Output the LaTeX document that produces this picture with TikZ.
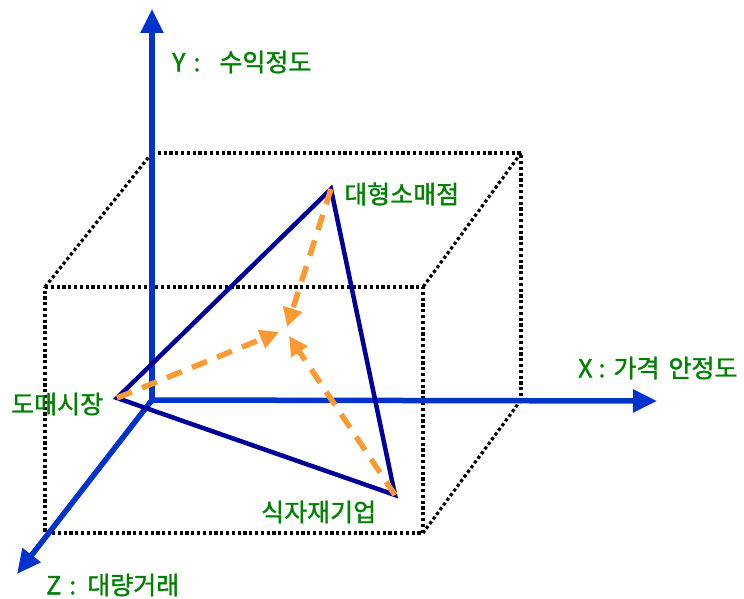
\documentclass[tikz,border=0pt]{standalone}
\usepackage{fontspec}
\setmainfont{Noto Sans CJK KR}
\newfontfamily\labfont{Noto Sans CJK KR}[FakeBold=1.4]
\usetikzlibrary{arrows.meta}
\definecolor{axisblue}{RGB}{0,51,204}
\definecolor{trinavy}{RGB}{0,0,153}
\definecolor{arrorange}{RGB}{255,153,51}
\definecolor{labgreen}{RGB}{0,128,0}
\tikzset{
  axisline/.style={draw=axisblue, line width=5.5pt, -{Triangle[length=24pt,width=22pt]}},
  boxline/.style={draw=black, line width=3.2pt, dash pattern=on 3.2pt off 2.6pt},
  triline/.style={draw=trinavy, line width=4.5pt, line join=miter},
  flowline/.style={draw=arrorange, line width=5.5pt, dash pattern=on 16pt off 11pt, -{Triangle[length=19pt,width=19pt]}},
  lab/.style={text=labgreen, font=\labfont\fontsize{25}{28}\selectfont, inner sep=0pt}
}
\begin{document}
\begin{tikzpicture}[x=1pt,y=-1pt]
\useasboundingbox (0,0) rectangle (744,599);
% box corners
\coordinate (b1) at (152,153);
\coordinate (b2) at (521,153);
\coordinate (b3) at (521,400);
\coordinate (b4) at (152,400);
\coordinate (f1) at (45,287);
\coordinate (f2) at (423,287);
\coordinate (f3) at (423,533);
\coordinate (f4) at (45,533);
\draw[boxline] (b1) -- (b2) -- (b3);
\draw[boxline] (f1) -- (f2) -- (f3) -- (f4) -- cycle;
\draw[boxline] (b1) -- (f1);
\draw[boxline] (b2) -- (f2);
\draw[boxline] (b3) -- (f3);
% axes
\coordinate (O) at (152,400);
\coordinate (yend) at (152,9);
\coordinate (xend) at (657,401);
\coordinate (zend) at (17,574);
\draw[axisline] (O) -- (yend);
\draw[axisline] (O) -- (xend);
\draw[axisline] (O) -- (zend);
% triangle
\coordinate (A) at (117,398);
\coordinate (B) at (331,189);
\coordinate (C) at (395,495);
\draw[triline] (A) -- (B) -- (C) -- cycle;
% flows
\coordinate (tA) at (279,332);
\coordinate (tB) at (287,327);
\coordinate (tC) at (289,336);
\draw[flowline] (A) -- (tA);
\draw[flowline] (B) -- (tB);
\draw[flowline] (C) -- (tC);
% labels
\node[lab, anchor=west] (ylab) at (172,62) {Y\hspace{8pt}:\hspace{19pt}수익정도};
\node[lab, anchor=west] (xlab) at (578,368) {X\hspace{6pt}:\hspace{8pt}가격\hspace{9pt}안정도};
\node[lab, anchor=west] (zlab) at (46,585) {Z\hspace{8pt}:\hspace{11pt}대량거래};
\node[lab, anchor=west] (lB) at (344,194) {대형소매점};
\node[lab, anchor=west] (lA) at (11,404) {도매시장};
\node[lab, anchor=west] (lC) at (261,512) {식자재기업};
\end{tikzpicture}
\end{document}
